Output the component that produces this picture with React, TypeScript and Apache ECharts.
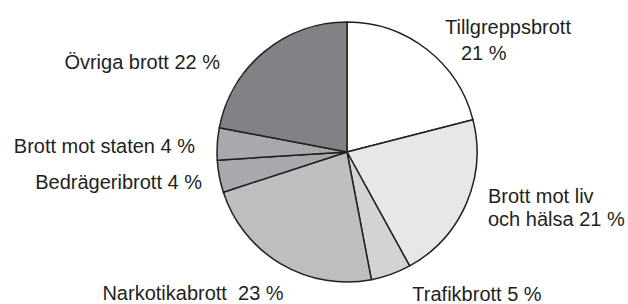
import React, { useEffect, useRef } from "react";
import * as echarts from "echarts";

const categories = [
  "Tillgreppsbrott",
  "Brott mot liv och hälsa",
  "Trafikbrott",
  "Narkotikabrott",
  "Bedrägeribrott",
  "Brott mot staten",
  "Övriga brott",
];
const values = [21, 21, 5, 23, 4, 4, 22];
const labelTexts = [
  "{a|Tillgreppsbrott}\n{b|21 %}",
  "Brott mot liv\noch hälsa 21 %",
  "Trafikbrott 5 %",
  "Narkotikabrott  23 %",
  "Bedrägeribrott 4 %",
  "Brott mot staten 4 %",
  "Övriga brott 22 %",
];
const colors = ["#ffffff", "#e6e7e8", "#d1d3d4", "#bcbec0", "#a7a9ac", "#a7a9ac", "#808285"];

// label anchor layout (x, y, align)
const labelPos: [number, number, string][] = [
  [445, 40, "left"],
  [488, 207, "left"],
  [477, 294, "center"],
  [193, 293, "center"],
  [202, 182, "right"],
  [195, 146, "right"],
  [220, 62, "right"],
];

export default function App() {
  const ref = useRef<HTMLDivElement>(null);
  useEffect(() => {
    if (!ref.current) return;
    const chart = echarts.init(ref.current, null, { renderer: "svg" });
    const font = "'Liberation Sans', Arial, Helvetica, sans-serif";
    chart.setOption({
      animation: false,
      backgroundColor: "#ffffff",
      series: [
        {
          type: "pie",
          center: [347, 152],
          radius: 130,
          startAngle: 90,
          clockwise: true,
          itemStyle: { borderColor: "#231f20", borderWidth: 1.5 },
          label: {
            show: true,
            position: "outside",
            color: "#231f20",
            fontFamily: font,
            fontSize: 20,
            lineHeight: 23,
            overflow: "none",
            rich: {
              a: { fontFamily: font, fontSize: 20, color: "#231f20", lineHeight: 26 },
              b: { fontFamily: font, fontSize: 20, color: "#231f20", lineHeight: 26, padding: [0, 0, 0, 16] },
            },
          },
          labelLine: { show: false },
          labelLayout: (params: any) => {
            const p = labelPos[params.dataIndex];
            return { x: p[0], y: p[1], align: p[2], verticalAlign: "middle" };
          },
          emphasis: { disabled: true },
          data: categories.map((name, i) => ({
            name,
            value: values[i],
            itemStyle: { color: colors[i] },
            label: { formatter: labelTexts[i] },
          })),
        },
      ],
    });
    return () => chart.dispose();
  }, []);
  return (
    <div
      ref={ref}
      style={{ position: "fixed", left: 0, top: 0, width: 628, height: 304 }}
    />
  );
}
